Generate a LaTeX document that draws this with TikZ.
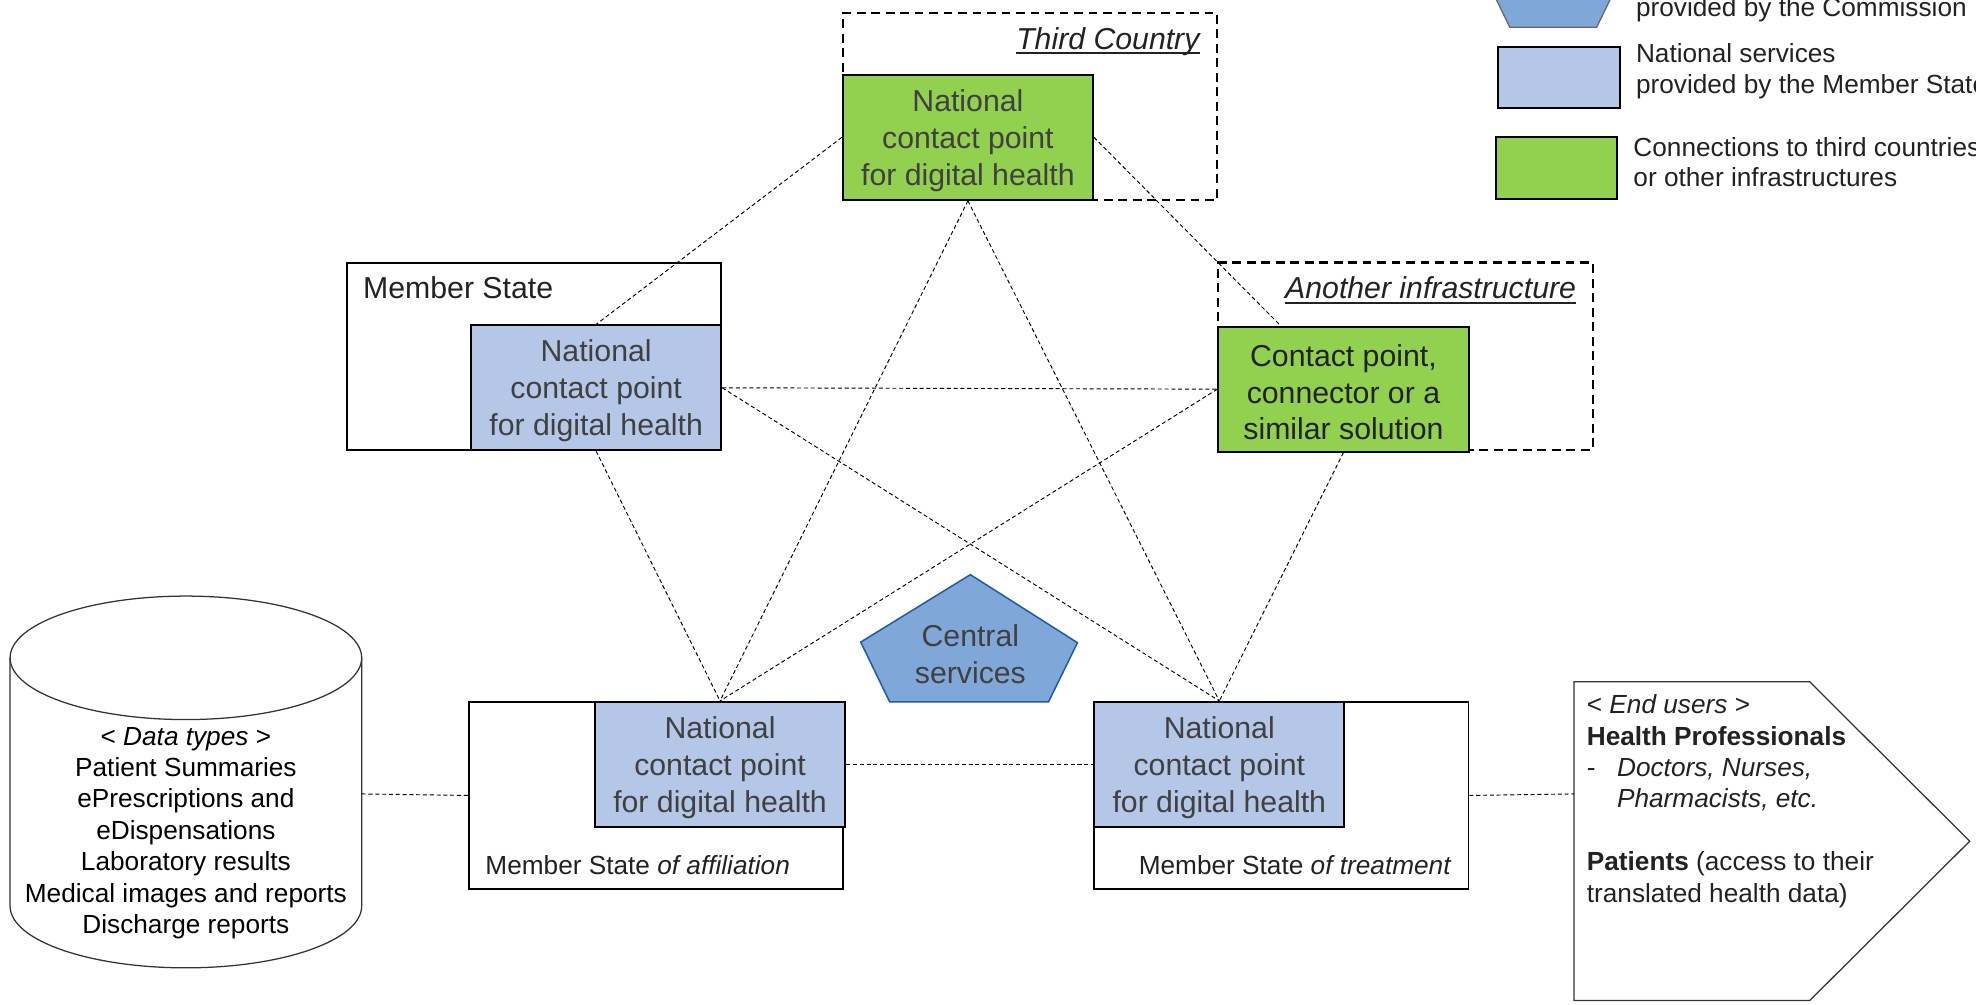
\documentclass[tikz,border=0pt]{standalone}
\usepackage{fontspec}
\setmainfont{Liberation Sans}
\definecolor{nsblue}{HTML}{B4C7E7}
\definecolor{tcgreen}{HTML}{92D050}
\definecolor{csblue}{HTML}{7FA8D8}
\definecolor{csborder}{HTML}{1F5BA8}
\definecolor{greytext}{HTML}{404040}
\definecolor{darktext}{HTML}{222222}
\newcommand\mytoppad{\rule{0pt}{22.4pt}}
\begin{document}
\begin{tikzpicture}[x=1pt,y=-1pt,
  npbox/.style={draw=black, line width=1.6pt, minimum width=198.5pt, minimum height=99pt, inner sep=0pt, align=center, font=\fontsize{24}{29.2}\selectfont, anchor=north west},
  natbox/.style={npbox, fill=nsblue, text=greytext},
  extbox/.style={npbox, fill=tcgreen},
  outerbox/.style={draw=black, line width=1.5pt, fill=white, minimum width=297pt, minimum height=148.5pt, anchor=north west, inner sep=0pt},
  dashbox/.style={draw=black, line width=1.6pt, dash pattern=on 7pt off 4.5pt, minimum width=297pt, minimum height=148.5pt, anchor=north west, inner sep=0pt},
  link/.style={draw=black, line width=0.75pt, dash pattern=on 3.2pt off 2.2pt},
  bigtxt/.style={font=\fontsize{24}{29.2}\selectfont, inner sep=0pt, text=darktext},
  midtxt/.style={font=\fontsize{20.8}{24.9}\selectfont, inner sep=0pt, text=darktext},
  legbox/.style={draw=black, line width=1.6pt, minimum width=96.5pt, minimum height=48.8pt, anchor=north west, inner sep=0pt},
  ulinestyle/.style={line width=1.5pt, draw=darktext},
  shapeline/.style={line width=1pt, draw=black!80},
]
\useasboundingbox (0,0) rectangle (1568,797);
\clip (0,0) rectangle (1568,797);

% ---------- legend ----------
\filldraw[fill=csblue, draw=black!60, line width=1pt] (1233,-33.7) -- (1279.6,-4.2) -- (1267,21.6) -- (1198,21.6) -- (1185.4,-4.4) -- cycle;
\node[midtxt, anchor=base west] (lg1) at (1298,12.8) {provided by the Commission};
\node[legbox, fill=nsblue] (lgblue) at (1188,36.3) {};
\node[midtxt, anchor=base west] (lg2) at (1298,49.3) {National services};
\node[midtxt, anchor=base west] (lg3) at (1298,74) {provided by the Member State};
\node[legbox, fill=tcgreen] (lggreen) at (1186,108.3) {};
\node[midtxt, anchor=base west] (lg4) at (1296,124.5) {Connections to third countries};
\node[midtxt, anchor=base west] (lg5) at (1296,148) {or other infrastructures};

% ---------- third country ----------
\node[dashbox] (tcbox) at (668,9.5) {};
\node[extbox, text=greytext] (tc) at (668,58.7) {\mytoppad National\\contact point\\for digital health};
\node[bigtxt, anchor=base east] (tctitle) at (952,39.5) {\itshape Third Country};
\draw[ulinestyle] ([yshift=-2.8pt]tctitle.base west) -- ([yshift=-2.8pt]tctitle.base east);

% ---------- member state ----------
\node[outerbox] (msbox) at (274.3,207.7) {};
\node[natbox] (ms) at (373,257.4) {\mytoppad National\\contact point\\for digital health};
\node[bigtxt, anchor=base west] (mstitle) at (288,236.6) {Member State};

% ---------- another infrastructure ----------
\node[dashbox] (aibox) at (966,207.5) {};
\node[extbox, text=darktext] (ai) at (966,258.5) {\mytoppad Contact point,\\connector or a\\similar solution};
\node[bigtxt, anchor=base east] (aititle) at (1250.8,236.7) {\itshape Another infrastructure};
\draw[ulinestyle] ([yshift=-3.4pt]aititle.base west) -- ([yshift=-3.4pt]aititle.base east);

% ---------- affiliation ----------
\node[outerbox] (affbox) at (371.5,556.2) {};
\node[natbox] (aff) at (471.3,556.2) {\mytoppad National\\contact point\\for digital health};
\node[midtxt, anchor=base west] (afftitle) at (385,694) {Member State \textit{of affiliation}};

% ---------- treatment ----------
\node[outerbox] (trbox) at (867.5,556.2) {};
\node[natbox] (tr) at (867.5,556.2) {\mytoppad National\\contact point\\for digital health};
\node[midtxt, anchor=base east] (trtitle) at (1152,694) {Member State \textit{of treatment}};

% ---------- central services ----------
\filldraw[fill=csblue, draw=csborder, line width=1.2pt] (770,456) -- (855,510) -- (832,557) -- (706,557) -- (683,509.5) -- cycle;
\node[bigtxt, text=greytext, align=center] (cs) at (770,519) {Central\\services};

% ---------- data types cylinder ----------
\draw[shapeline] (147.5,522) ellipse [x radius=139.5pt, y radius=49pt];
\draw[shapeline] (8,522) -- (8,719) arc[start angle=180, end angle=360, x radius=139.5pt, y radius=49pt] -- (287,522);
\coordinate (cylE) at (287,630);
\node[midtxt, text=black, align=center] (dt) at (147.5,661) {< \textit{Data types} >\\Patient Summaries\\ePrescriptions and\\eDispensations\\Laboratory results\\Medical images and reports\\Discharge reports};

% ---------- end users ----------
\draw[shapeline] (1249,541) -- (1436,541) -- (1563,667.5) -- (1436,794) -- (1249,794) -- cycle;
\coordinate (euW) at (1249,630);
\node[midtxt, align=left, anchor=north west] (eu) at (1259,551.1) {< \textit{End users} >\\\textbf{Health Professionals}\\\makebox[24pt][l]{-}\textit{Doctors, Nurses,}\\\hspace*{24pt}\textit{Pharmacists, etc.}\\[24.9pt]\textbf{Patients} (access to their\\translated health data)};

% ---------- connectors ----------
\draw[link] (tc.west) -- (ms.north);
\draw[link] (tc.east) -- (ai);
\draw[link] (tc.south) -- (aff.north);
\draw[link] (tc.south) -- (tr.north);
\draw[link] (ms.east) -- (ai.west);
\draw[link] (ms.east) -- (tr.north);
\draw[link] (ms.south) -- (aff.north);
\draw[link] (ai.west) -- (aff.north);
\draw[link] (ai.south) -- (tr.north);
\draw[link] (aff.east) -- (tr.west);
\draw[link] (cylE) -- (affbox.west);
\draw[link] (trbox.east) -- (euW);
\end{tikzpicture}
\end{document}
